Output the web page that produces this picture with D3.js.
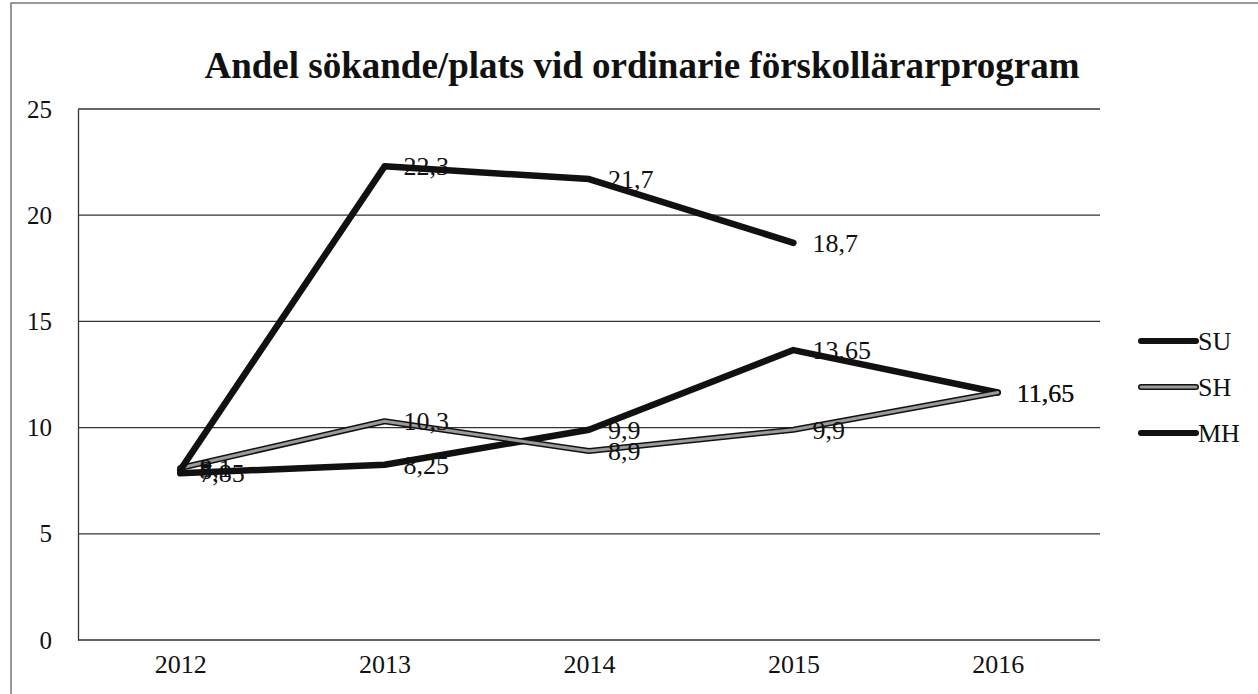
<!DOCTYPE html>
<html>
<head>
	<meta charset="utf-8">
	<title>Andel sökande/plats</title>
	<style>
		body { margin: 0; background: #fff; }
		text { font-family: "Liberation Serif", "Times New Roman", serif; fill: #111; }
	</style>
</head>
<body>
<div class="chart"></div>
<script src="https://cdn.jsdelivr.net/npm/d3@7"></script>
<script>
	// data
	let years = ["2012", "2013", "2014", "2015", "2016"];
	let su = [8, 22.3, 21.7, 18.7, null];
	let sh = [8.1, 10.3, 8.9, 9.9, 11.65];
	let mh = [7.85, 8.25, 9.9, 13.65, 11.65];
	let yTicks = [0, 5, 10, 15, 20, 25];
	let seriesNames = ["SU", "SH", "MH"];

	let width = 1258, height = 694;
	let plot = {left: 78, top: 109, right: 1100, bottom: 640};

	let svg = d3.select(".chart").append("svg")
		.attr("width", width)
		.attr("height", height);

	// outer frame
	svg.append("rect")
		.attr("x", 11).attr("y", 3)
		.attr("width", 1300).attr("height", 760)
		.attr("fill", "none").attr("stroke", "#777").attr("stroke-width", 1.5);

	// title
	svg.append("text")
		.attr("x", 642).attr("y", 78)
		.attr("text-anchor", "middle")
		.style("font-size", "37px").style("font-weight", "bold")
		.text("Andel sökande/plats vid ordinarie förskollärarprogram");

	// scales
	let x = d3.scalePoint().domain(years).range([plot.left, plot.right]).padding(0.5);
	let y = d3.scaleLinear().domain([0, 25]).range([plot.bottom, plot.top]);

	// grid
	svg.append("g").selectAll("line")
		.data(yTicks)
		.enter().append("line")
		.attr("x1", plot.left).attr("x2", plot.right)
		.attr("y1", d => y(d)).attr("y2", d => y(d))
		.attr("stroke", "#333").attr("stroke-width", 1.3);

	// axes
	let axisY = d3.axisLeft(y).tickValues(yTicks).tickSize(0).tickPadding(26);
	let gy = svg.append("g")
		.attr("transform", "translate(" + plot.left + ",0)")
		.call(axisY);
	gy.select(".domain").attr("stroke", "#333").attr("stroke-width", 1.3);
	gy.selectAll("text").style("font-size", "25px").style("font-family", "Liberation Serif");

	let axisX = d3.axisBottom(x).tickSize(0).tickPadding(15);
	let gx = svg.append("g")
		.attr("transform", "translate(0," + plot.bottom + ")")
		.call(axisX);
	gx.select(".domain").remove();
	gx.selectAll("text").style("font-size", "26px").style("font-family", "Liberation Serif");

	// lines
	let line = d3.line()
		.defined(d => d != null)
		.x((d, i) => x(years[i]))
		.y(d => y(d));

	function drawSeries(values, grey) {
		svg.append("path")
			.attr("d", line(values))
			.attr("fill", "none")
			.attr("stroke", "#111")
			.attr("stroke-width", grey ? 6 : 6.5)
			.attr("stroke-linejoin", "round")
			.attr("stroke-linecap", "round");
		if (grey) {
			svg.append("path")
				.attr("d", line(values))
				.attr("fill", "none")
				.attr("stroke", "#9a9a9a")
				.attr("stroke-width", 3)
				.attr("stroke-linejoin", "round")
				.attr("stroke-linecap", "round");
		}
	}
	drawSeries(mh, false);
	drawSeries(sh, true);
	drawSeries(su, false);

	// data labels
	let fmt = v => String(v).replace(".", ",");
	[su, sh, mh].forEach(values => {
		svg.append("g").selectAll("text")
			.data(values.map((v, i) => ({v: v, year: years[i]})).filter(d => d.v != null))
			.enter().append("text")
			.attr("x", d => x(d.year) + 19)
			.attr("y", d => y(d.v))
			.attr("dy", "0.35em")
			.style("font-size", "26px")
			.text(d => fmt(d.v));
	});

	// legend
	let legend = svg.append("g").selectAll("g")
		.data(seriesNames)
		.enter().append("g")
		.attr("transform", (d, i) => "translate(1141," + (341 + i * 46) + ")");
	legend.append("line")
		.attr("x1", 0).attr("x2", 55)
		.attr("stroke", "#111").attr("stroke-width", 6).attr("stroke-linecap", "round");
	legend.filter(d => d == "SH").append("line")
		.attr("x1", 0).attr("x2", 55)
		.attr("stroke", "#9a9a9a").attr("stroke-width", 3).attr("stroke-linecap", "round");
	legend.append("text")
		.attr("x", 57).attr("dy", "0.35em")
		.style("font-size", "26px")
		.text(d => d);
</script>
</body>
</html>
